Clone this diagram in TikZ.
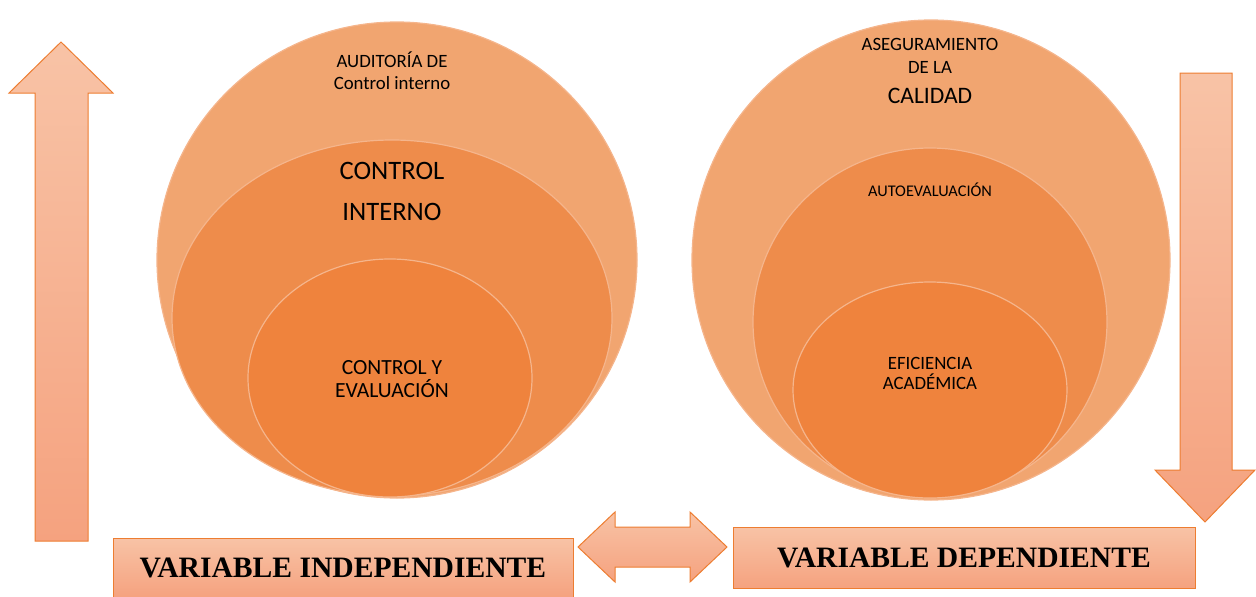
\documentclass[tikz,border=0pt]{standalone}
\usepackage{fontspec}
\setmainfont{Carlito}
\newfontfamily\timesb{Liberation Serif}
\usetikzlibrary{shapes.geometric}
\definecolor{outerc}{HTML}{F1A570}
\definecolor{midc}{HTML}{EE8C4B}
\definecolor{innc}{HTML}{EF833D}
\definecolor{rimc}{HTML}{F5B58C}
\definecolor{arrline}{HTML}{ED7D31}
\definecolor{arrtop}{HTML}{F8C3A6}
\definecolor{arrbot}{HTML}{F5A27F}
\tikzset{
  disc/.style={ellipse, inner sep=0pt, draw=rimc, line width=1.2pt},
  arrowshape/.style={draw=arrline, line width=1pt, top color=arrtop, bottom color=arrbot},
  varbox/.style={draw=arrline, line width=1pt, top color=arrtop, bottom color=arrbot, inner sep=0pt, font=\timesb\bfseries\fontsize{29.6}{32}\selectfont},
  lbl/.style={align=center, inner sep=0pt, text=black}
}
\begin{document}
\begin{tikzpicture}[x=1pt,y=-1pt]
\useasboundingbox (0,0) rectangle (1256,597);
% left group
\node[disc, fill=outerc, minimum width=480, minimum height=476] (o1) at (397,260) {};
\node[disc, fill=midc, minimum width=440, minimum height=356] (m1) at (392,318) {};
\node[disc, fill=innc, minimum width=284, minimum height=238] (i1) at (390,378) {};
\node[lbl, font=\fontsize{18.8}{22}\selectfont] (t1) at (392,71) {AUDITORÍA DE\\Control interno};
\node[lbl, font=\fontsize{26.6}{41}\selectfont] (t2) at (392,191) {CONTROL\\INTERNO};
\node[lbl, font=\fontsize{21.6}{23}\selectfont] (t3) at (392,379) {CONTROL Y\\EVALUACIÓN};
% right group
\node[disc, fill=outerc, minimum width=478, minimum height=480] (o2) at (931,260) {};
\node[disc, fill=midc, minimum width=354, minimum height=348] (m2) at (930,322) {};
\node[disc, fill=innc, minimum width=274, minimum height=216] (i2) at (930,390) {};
\node[lbl, font=\fontsize{18.8}{23}\selectfont] (t4) at (930,56) {ASEGURAMIENTO\\DE LA};
\node[lbl, font=\fontsize{23.6}{24}\selectfont] (t5) at (930,96) {CALIDAD};
\node[lbl, font=\fontsize{16.3}{16}\selectfont] (t6) at (930,190) {AUTOEVALUACIÓN};
\node[lbl, font=\fontsize{18.8}{20}\selectfont] (t7) at (930,373) {EFICIENCIA\\ACADÉMICA};
% arrows
\path[arrowshape] (35,541) -- (35,93) -- (9,93) -- (61,42) -- (113,93) -- (88,93) -- (88,541) -- cycle;
\path[arrowshape] (1180,73) -- (1232,73) -- (1232,470) -- (1255,470) -- (1205,522) -- (1155,470) -- (1180,470) -- cycle;
% boxes
\node[varbox, minimum width=460, minimum height=59] (vi) at (343,567.5) {VARIABLE INDEPENDIENTE};
\node[varbox, minimum width=462, minimum height=61] (vd) at (964,557.5) {VARIABLE DEPENDIENTE};
\path[arrowshape] (578,547) -- (615,512) -- (615,527) -- (690,527) -- (690,512) -- (727,547) -- (690,582) -- (690,567) -- (615,567) -- (615,582) -- cycle;
\end{tikzpicture}
\end{document}
